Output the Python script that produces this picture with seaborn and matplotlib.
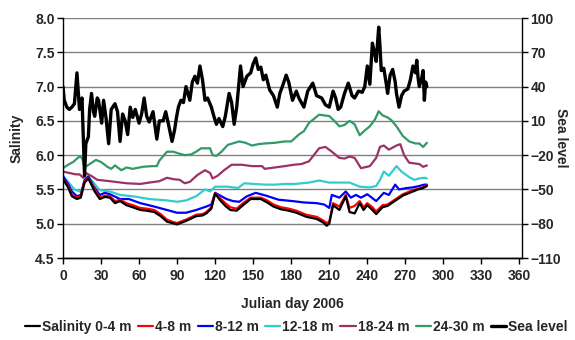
import numpy as np
import pandas as pd
import matplotlib
matplotlib.use("Agg")
import matplotlib.pyplot as plt
import seaborn as sns

# salinity layers (days)
days_s = [0, 4, 7, 11, 14, 17, 20, 25, 29, 33, 37, 41, 45, 50, 55, 61, 66, 72, 77, 82, 86, 90,
          97, 105, 110, 113, 117, 120, 124, 128, 132, 137, 142, 148, 156, 161, 166, 172, 178,
          184, 192, 200, 205, 208, 210, 213, 218, 223, 226, 230, 234, 237, 240, 244, 247, 252,
          256, 260, 264, 268, 272, 276, 280, 284, 287]
sal_0_4 = [5.65, 5.53, 5.40, 5.36, 5.38, 5.60, 5.66, 5.47, 5.36, 5.39, 5.38, 5.30, 5.33, 5.27,
           5.24, 5.20, 5.19, 5.17, 5.11, 5.03, 5.01, 4.99, 5.04, 5.11, 5.12, 5.15, 5.22, 5.44,
           5.34, 5.26, 5.20, 5.19, 5.27, 5.36, 5.36, 5.31, 5.25, 5.21, 5.19, 5.16, 5.10, 5.07,
           5.02, 4.97, 5.00, 5.27, 5.20, 5.40, 5.17, 5.15, 5.30, 5.20, 5.27, 5.20, 5.14, 5.24,
           5.26, 5.31, 5.36, 5.41, 5.44, 5.47, 5.50, 5.52, 5.55]
sal_4_8 = [5.66, 5.55, 5.42, 5.38, 5.40, 5.62, 5.67, 5.50, 5.38, 5.41, 5.40, 5.33, 5.35, 5.30,
           5.27, 5.23, 5.22, 5.20, 5.14, 5.06, 5.03, 5.01, 5.06, 5.13, 5.14, 5.17, 5.24, 5.45,
           5.37, 5.30, 5.24, 5.22, 5.30, 5.38, 5.38, 5.34, 5.28, 5.24, 5.22, 5.19, 5.13, 5.10,
           5.05, 5.01, 5.03, 5.30, 5.25, 5.42, 5.23, 5.26, 5.33, 5.24, 5.30, 5.24, 5.18, 5.27,
           5.28, 5.33, 5.38, 5.43, 5.46, 5.49, 5.51, 5.53, 5.56]

days_b = [0, 4, 7, 11, 14, 17, 20, 24, 29, 33, 37, 45, 52, 61, 72, 82, 90, 97, 105, 113, 117,
          120, 125, 129, 134, 139, 145, 152, 160, 170, 181, 190, 200, 206, 210, 212, 218, 223,
          227, 231, 235, 240, 247, 253, 257, 262, 265, 271, 276, 281, 285, 287]
sal_8_12 = [5.69, 5.58, 5.47, 5.40, 5.42, 5.64, 5.69, 5.55, 5.42, 5.45, 5.43, 5.36, 5.36, 5.30,
            5.25, 5.20, 5.16, 5.16, 5.20, 5.25, 5.28, 5.45, 5.40, 5.36, 5.33, 5.32, 5.40, 5.45,
            5.41, 5.35, 5.33, 5.31, 5.30, 5.28, 5.23, 5.42, 5.38, 5.47, 5.38, 5.42, 5.38, 5.43,
            5.33, 5.45, 5.42, 5.57, 5.50, 5.52, 5.53, 5.55, 5.57, 5.57]

days_c = [0, 5, 9, 13, 15, 17, 20, 23, 29, 37, 45, 55, 68, 82, 90, 97, 105, 112, 116, 120, 130,
          138, 143, 150, 160, 167, 175, 183, 194, 202, 210, 218, 226, 234, 242, 247, 250, 253,
          257, 263, 267, 270, 273, 277, 281, 285, 287]
sal_12_18 = [5.70, 5.59, 5.50, 5.47, 5.50, 5.61, 5.69, 5.62, 5.49, 5.47, 5.42, 5.40, 5.36, 5.34,
             5.32, 5.34, 5.40, 5.50, 5.47, 5.54, 5.54, 5.52, 5.59, 5.58, 5.57, 5.57, 5.58, 5.58,
             5.60, 5.63, 5.60, 5.60, 5.60, 5.54, 5.53, 5.55, 5.64, 5.76, 5.70, 5.84, 5.76, 5.72,
             5.68, 5.64, 5.66, 5.67, 5.66]

days_p = [0, 5, 10, 13, 16, 18, 23, 27, 37, 50, 61, 68, 76, 82, 87, 92, 96, 100, 106, 112, 116,
          118, 122, 127, 133, 141, 149, 157, 159, 167, 175, 182, 188, 194, 202, 207, 212, 218,
          222, 226, 230, 235, 242, 247, 250, 253, 257, 263, 266, 269, 273, 277, 281, 284, 287]
sal_18_24 = [5.76, 5.74, 5.72, 5.72, 5.67, 5.74, 5.69, 5.64, 5.62, 5.59, 5.58, 5.60, 5.62, 5.67,
             5.65, 5.64, 5.59, 5.61, 5.71, 5.78, 5.74, 5.66, 5.70, 5.78, 5.86, 5.86, 5.84, 5.84,
             5.80, 5.82, 5.84, 5.86, 5.87, 5.91, 6.10, 6.12, 6.05, 5.96, 5.95, 5.98, 5.96, 5.81,
             5.84, 5.96, 6.12, 6.14, 6.08, 6.14, 6.16, 6.00, 5.89, 5.88, 5.87, 5.83, 5.85]

days_g = [0, 4, 8, 13, 15, 17, 21, 26, 30, 35, 38, 41, 46, 50, 55, 63, 70, 74, 76, 82, 87, 92,
          96, 101, 105, 109, 116, 118, 121, 125, 130, 139, 144, 149, 154, 159, 167, 175, 180,
          186, 190, 194, 202, 210, 214, 218, 222, 226, 230, 234, 238, 242, 246, 249, 252, 256,
          259, 263, 268, 273, 278, 281, 284, 287]
sal_24_30 = [5.81, 5.86, 5.90, 5.98, 5.96, 5.82, 5.87, 5.93, 5.90, 5.83, 5.80, 5.85, 5.78, 5.82,
             5.80, 5.83, 5.84, 5.84, 5.92, 6.05, 6.05, 6.02, 6.00, 6.01, 6.05, 6.10, 6.10, 6.00,
             5.99, 6.05, 6.15, 6.20, 6.18, 6.14, 6.16, 6.17, 6.18, 6.20, 6.20, 6.30, 6.35, 6.47,
             6.59, 6.57, 6.50, 6.42, 6.44, 6.50, 6.45, 6.29, 6.36, 6.42, 6.52, 6.64, 6.58, 6.55,
             6.51, 6.42, 6.28, 6.20, 6.17, 6.17, 6.12, 6.18]

# sea level (cm), right axis
days_sl = [0, 1, 3, 5, 7, 9, 11, 13, 15, 17, 18, 20, 21, 22.5, 24, 25, 27, 28, 30.5, 32, 34, 36,
           38, 41, 43, 45, 47, 49, 51, 53, 55, 57, 60, 62, 64, 66, 68, 71, 74, 76, 79, 81, 83,
           86, 88, 89.5, 91, 93, 95, 97, 100, 102, 104, 106, 108, 110, 112, 114, 117, 119, 121,
           123, 126, 128, 131, 133, 135, 137, 140, 142, 145, 148, 150, 152, 154, 156, 158, 160,
           163, 166, 169, 171, 173, 176, 178, 181, 184, 186, 190, 193, 197, 200, 204, 207, 210,
           213, 215, 217, 219, 222, 225, 228, 230, 233, 236, 238, 240, 242, 243, 244, 246, 247,
           249, 250, 251, 253, 255, 256, 258, 260, 262, 263, 265, 267, 269, 272, 274, 276, 278,
           279, 280, 281, 283, 284, 285, 286, 287]
sea_level = [40, 28, 22, 20, 22, 25, 52, 20, 30, -38, -10, -4, 20, 34, 18, 14, 30, 28, 8, 28, 12,
             -10, 20, 25, 18, -8, 16, 10, -2, 22, 13, 20, 8, 16, 30, 14, 9, 18, -6, 10, 10, 18, 8,
             -8, 2, 13, 22, 28, 26, 40, 28, 44, 49, 43, 58, 46, 28, 30, 22, 14, 7, 12, 5, 14, 34,
             26, 7, 22, 58, 40, 49, 52, 60, 65, 55, 57, 46, 50, 37, 32, 22, 34, 40, 50, 44, 28,
             36, 30, 22, 36, 43, 32, 30, 24, 22, 36, 30, 20, 22, 34, 43, 32, 30, 36, 35, 40, 58,
             42, 60, 78, 68, 62, 92, 75, 54, 56, 42, 34, 50, 55, 44, 34, 22, 32, 36, 38, 46, 58,
             52, 63, 48, 40, 48, 54, 28, 44, 40]

sal_labels = ["Salinity 0-4 m", "4-8 m", "8-12 m", "12-18 m", "18-24 m", "24-30 m"]
sal_colors = ["#000000", "#FF0000", "#0000FF", "#33CCCC", "#993366", "#339966"]

sns.set_style("white")
plt.rcParams['font.family'] = ['Liberation Sans', 'DejaVu Sans']
plt.rcParams['font.weight'] = 'bold'

fig = plt.figure(figsize=(5.75, 3.4), dpi=100)
ax = fig.add_axes([63/575, 82/340, 459/575, 240/340])
ax2 = ax.twinx()

series = [(days_s, sal_0_4), (days_s, sal_4_8), (days_b, sal_8_12),
          (days_c, sal_12_18), (days_p, sal_18_24), (days_g, sal_24_30)]
# deeper layers first so the surface lines sit on top
for i in [5, 4, 3, 2, 1, 0]:
    d, v = series[i]
    sns.lineplot(x=d, y=v, ax=ax, color=sal_colors[i], lw=1.6, estimator=None,
                 label=sal_labels[i], legend=False)

sns.lineplot(x=days_sl, y=sea_level, ax=ax2, color="black", lw=2.4, estimator=None,
             label="Sea level", legend=False)

ax.set_xlim(0, 362)
ax.set_ylim(4.5, 8.0)
ax2.set_ylim(-110, 100)
ax.set_xticks(np.arange(0, 361, 30))
ax.set_yticks(np.arange(4.5, 8.01, 0.5))
ax2.set_yticks(np.arange(-110, 101, 30))
ax.yaxis.set_major_formatter(matplotlib.ticker.FormatStrFormatter('%.1f'))

ax.yaxis.grid(True, color="#808080", lw=1)
ax.xaxis.grid(False)
ax2.grid(False)

for a in (ax, ax2):
    a.spines['top'].set_visible(False)
    for s in ['left', 'right', 'bottom']:
        a.spines[s].set_color('black')
        a.spines[s].set_linewidth(1)
    a.tick_params(axis='both', which='major', labelsize=10, length=4, width=1,
                  direction='out', color='black')
ax.spines['right'].set_visible(False)
ax2.spines['left'].set_visible(False)
ax.tick_params(axis='y', left=True, pad=2)
ax.tick_params(axis='x', bottom=True, pad=4)
ax2.tick_params(axis='y', right=True, pad=2)

ax.set_xlabel("Julian day 2006", fontsize=10, fontweight='bold', labelpad=10)
ax.set_ylabel("Salinity", fontsize=10, fontweight='bold', labelpad=8)
ax2.set_ylabel("Sea level", fontsize=10, fontweight='bold', rotation=270, labelpad=5)

h1, l1 = ax.get_legend_handles_labels()
h2, l2 = ax2.get_legend_handles_labels()
order = sorted(range(len(l1)), key=lambda k: sal_labels.index(l1[k]))
handles = [h1[k] for k in order] + h2
labels = [l1[k] for k in order] + l2
leg = fig.legend(handles, labels, loc='center', bbox_to_anchor=(0.515, 0.038), ncol=7,
                 frameon=False, fontsize=10, handlelength=1.1, handletextpad=0.15,
                 columnspacing=0.45, borderaxespad=0, borderpad=0)
for t in leg.get_texts():
    t.set_fontweight('bold')

fig.savefig("out.png", dpi=100)
